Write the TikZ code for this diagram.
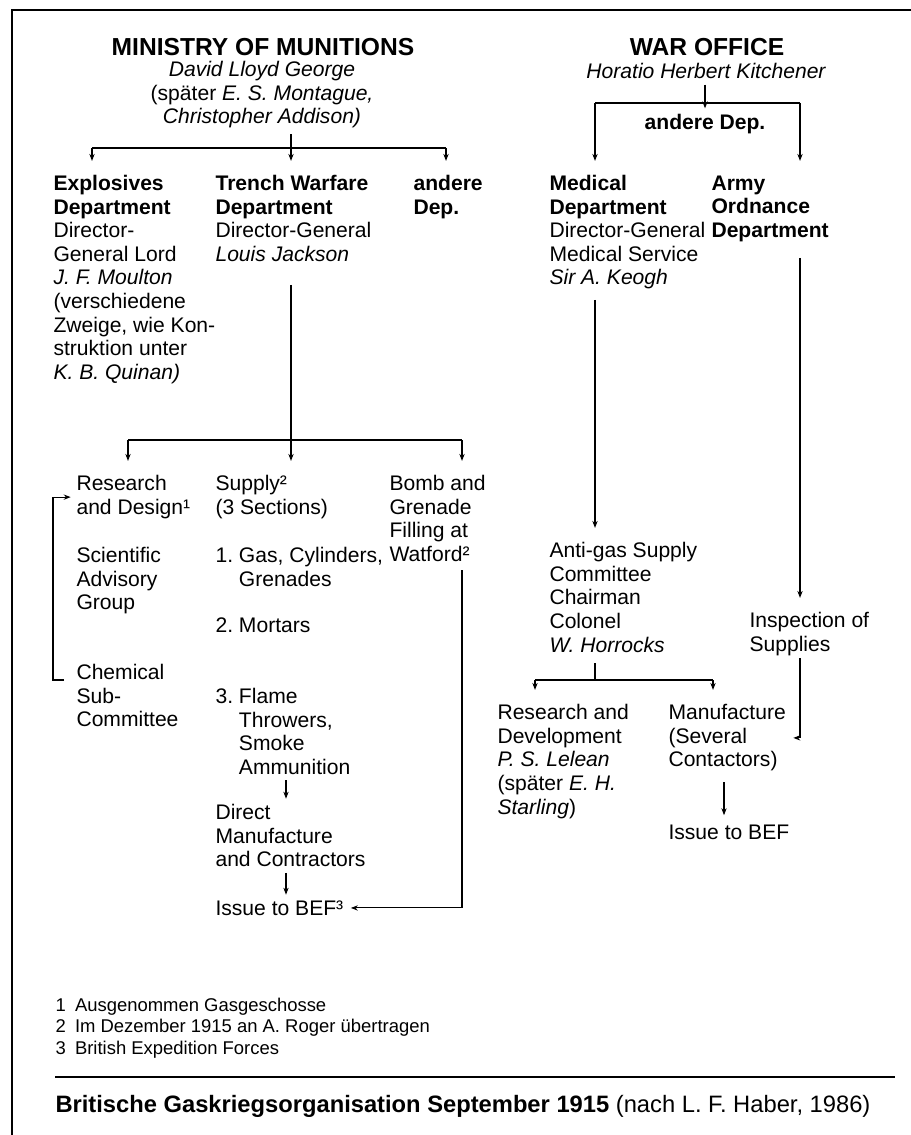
\documentclass[tikz,border=0pt]{standalone}
\usepackage{fontspec}
\setmainfont{Liberation Sans}
\usetikzlibrary{arrows.meta}
\begin{document}
\begin{tikzpicture}[x=0.2mm,y=-0.2mm,line width=0.6pt,>={Stealth[length=4pt,width=3pt]}]
	\tikzstyle{every node}+=[inner sep=0pt]
	\tikzstyle{box}=[anchor=north west,align=left,font=\fontsize{12}{13.4}\selectfont]
	\tikzstyle{head}=[font=\fontsize{14}{16}\selectfont\bfseries]
	\tikzstyle{sub}=[align=center,font=\fontsize{12}{13.4}\selectfont\itshape]
	\tikzstyle{down}=[->,shorten >=8pt]
	\useasboundingbox (0,0) rectangle (911,1135);
	\draw [black] (12,1135) -- (12,10) -- (911,10);
	\node [head] (mom) at (263,47) {MINISTRY OF MUNITIONS};
	\node [sub] (momp) at (262,95) {David Lloyd George\\\textup{(später }E. S. Montague,\\Christopher Addison)};
	\node [head] (wo) at (707,47) {WAR OFFICE};
	\node [sub] (wop) at (706,71) {Horatio Herbert Kitchener};
	\node [box,anchor=center,font=\fontsize{12}{13.4}\selectfont\bfseries] (wodep) at (705,124) {andere Dep.};
	\node [box] (explo) at (53,175) {\textbf{Explosives}\\\textbf{Department}\\Director-\\General Lord\\\textit{J. F. Moulton}\\(verschiedene\\Zweige, wie Kon-\\struktion unter\\\textit{K. B. Quinan)}};
	\node [box] (trench) at (215,175) {\textbf{Trench Warfare}\\\textbf{Department}\\Director-General\\\textit{Louis Jackson}};
	\node [box] (andl) at (413,175) {\textbf{andere}\\\textbf{Dep.}};
	\node [box] (med) at (549,175) {\textbf{Medical}\\\textbf{Department}\\Director-General\\Medical Service\\\textit{Sir A. Keogh}};
	\node [box] (army) at (711,175) {\textbf{Army}\\\textbf{Ordnance}\\\textbf{Department}};
	\coordinate (mombar) at (291,148);
	\coordinate (moml) at (92,148);
	\coordinate (momr) at (446,148);
	\draw [shorten <=3pt] (mombar |- momp.south) -- (mombar);
	\draw (moml) -- (momr);
	\draw [down] (moml) -- (moml |- explo.north);
	\draw [down] (mombar) -- (mombar |- trench.north);
	\draw [down] (momr) -- (momr |- andl.north);
	\coordinate (wobar) at (705,103);
	\coordinate (wol) at (595,103);
	\coordinate (wor) at (800,103);
	\draw [->,shorten <=3pt,shorten >=3pt] (wobar |- wop.south) -- (wobar |- wodep.north);
	\draw (wol) -- (wor);
	\draw [down] (wol) -- (wol |- med.north);
	\draw [down] (wor) -- (wor |- army.north);
	\node [box] (resd) at (76,475) {Research\\and Design¹};
	\node [box] (sci) at (76,547) {Scientific\\Advisory\\Group};
	\node [box] (chem) at (76,664) {Chemical\\Sub-\\Committee};
	\node [box] (supply) at (215,475) {Supply²\\(3 Sections)};
	\node [box] (sec1) at (215,547) {1.\ Gas, Cylinders,\\\phantom{1.\ }Grenades};
	\node [box] (sec2) at (215,617) {2.\ Mortars};
	\node [box] (sec3) at (215,688) {3.\ Flame\\\phantom{3.\ }Throwers,\\\phantom{3.\ }Smoke\\\phantom{3.\ }Ammunition};
	\node [box] (direct) at (215,804) {Direct\\Manufacture\\and Contractors};
	\node [box] (issue1) at (215,900) {Issue to BEF³};
	\node [box] (bomb) at (389,475) {Bomb and\\Grenade\\Filling at\\Watford²};
	\coordinate (trtop) at (291,285);
	\coordinate (trbar) at (291,440);
	\coordinate (trl) at (128,440);
	\coordinate (trr) at (462,440);
	\draw (trtop) -- (trbar);
	\draw (trl) -- (trr);
	\draw [down] (trl) -- (trl |- resd.north);
	\draw [down] (trbar) -- (trbar |- supply.north);
	\draw [down] (trr) -- (trr |- bomb.north);
	\coordinate (chemfoot) at (64,680);
	\coordinate (brk) at (53,680);
	\draw [->] (chemfoot) -- (brk) |- ([xshift=-3pt]resd.west);
	\coordinate (supx) at (286,0);
	\draw [->,shorten <=3pt,shorten >=3pt] (supx |- sec3.south) -- (supx |- direct.north);
	\draw [->,shorten <=3pt,shorten >=3pt] (supx |- direct.south) -- (supx |- issue1.north);
	\coordinate (bombx) at (462,570);
	\draw [->,shorten >=4pt] (bombx) |- (issue1.east);
	\node [box] (anti) at (549,542) {Anti-gas Supply\\Committee\\Chairman\\Colonel\\\textit{W. Horrocks}};
	\node [box] (insp) at (749,612) {Inspection of\\Supplies};
	\coordinate (medtop) at (595,300);
	\coordinate (armytop) at (800,258);
	\draw [down] (medtop) -- (medtop |- anti.north);
	\draw [down] (armytop) -- (armytop |- insp.north);
	\node [box] (resdev) at (497,704) {Research and\\Development\\\textit{P. S. Lelean}\\(später \textit{E. H.}\\\textit{Starling})};
	\node [box] (manuf) at (668,704) {Manufacture\\(Several\\Contactors)};
	\node [box] (issue2) at (668,824) {Issue to BEF};
	\coordinate (antibar) at (595,680);
	\coordinate (antil) at (535,680);
	\coordinate (antir) at (713,680);
	\draw [shorten <=6pt] (antibar |- anti.south) -- (antibar);
	\draw (antil) -- (antir);
	\draw [down] (antil) -- (antil |- resdev.north);
	\draw [down] (antir) -- (antir |- manuf.north);
	\coordinate (inspx) at (800,658);
	\draw [->,shorten >=4pt] (inspx) |- (manuf.east);
	\coordinate (manx) at (724,0);
	\draw [->,shorten <=6pt,shorten >=5pt] (manx |- manuf.south) -- (manx |- issue2.north);
	\node [box,font=\fontsize{10.5}{12}\selectfont] (notes) at (55,998) {1\enspace Ausgenommen Gasgeschosse\\2\enspace Im Dezember 1915 an A. Roger übertragen\\3\enspace British Expedition Forces};
	\coordinate (rulel) at (55,1077);
	\coordinate (ruler) at (895,1077);
	\draw (rulel) -- (ruler);
	\node [anchor=base west,font=\fontsize{13.5}{15}\selectfont] (cap) at (55,1112) {\textbf{Britische Gaskriegsorganisation September 1915} (nach L. F. Haber, 1986)};
\end{tikzpicture}
\end{document}
